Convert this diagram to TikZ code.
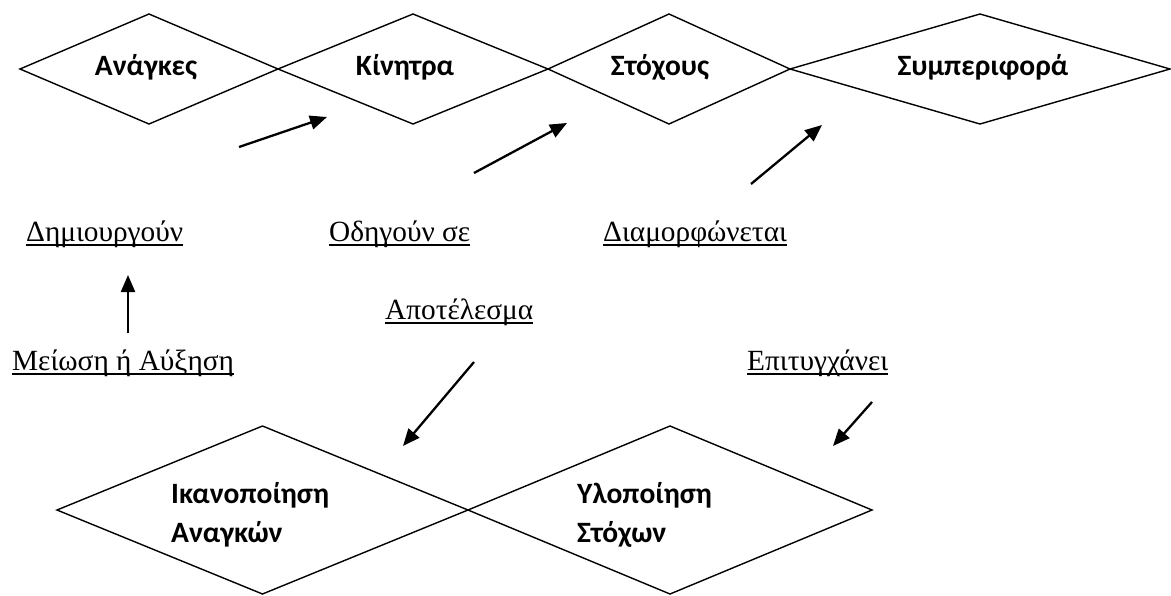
\documentclass[tikz,border=0pt]{standalone}
\usepackage{fontspec}
\setmainfont{Liberation Serif}
\newfontfamily\calfont{Carlito}
\usetikzlibrary{shapes.geometric,arrows.meta}
\begin{document}
\begin{tikzpicture}[x=1pt,y=-1pt,
  dia/.style={draw=black,line width=1.4pt,shape=diamond,inner sep=0pt,outer sep=0pt},
  boldlbl/.style={inner sep=0pt,font=\calfont\bfseries\fontsize{29.5}{34}\selectfont},
  ullbl/.style={inner sep=0pt,anchor=base west,font=\fontsize{29.3}{34}\selectfont},
  ulline/.style={line width=1.5pt},
  arr/.style={line width=2.3pt,-{Triangle[length=17pt,width=14pt]}}]
\useasboundingbox (0,0) rectangle (1171,595);
\fill[white] (0,0) rectangle (1171,595);
% top diamonds
\node[dia,minimum width=258pt,minimum height=110pt] (dAn) at (149,69) {};
\node[dia,minimum width=270pt,minimum height=110pt] (dKi) at (413,69) {};
\node[dia,minimum width=242pt,minimum height=110pt] (dSt) at (669,69) {};
\node[dia,minimum width=380pt,minimum height=110pt] (dSy) at (980,69) {};
% bottom diamonds
\node[dia,minimum width=411pt,minimum height=168pt] (dIk) at (262.5,510) {};
\node[dia,minimum width=404pt,minimum height=168pt] (dYl) at (670,510) {};
% bold labels
\node[boldlbl,anchor=base] (tAn) at (146,75) {Ανάγκες};
\node[boldlbl,anchor=base] (tKi) at (405,75) {Κίνητρα};
\node[boldlbl,anchor=base] (tSt) at (660,75) {Στόχους};
\node[boldlbl,anchor=base] (tSy) at (983,75) {Συμπεριφορά};
\node[boldlbl,anchor=base west] (tIk1) at (171,503) {Ικανοποίηση};
\node[boldlbl,anchor=base west] (tIk2) at (171,542) {Αναγκών};
\node[boldlbl,anchor=base west] (tYl1) at (577,503) {Υλοποίηση};
\node[boldlbl,anchor=base west] (tYl2) at (577,542) {Στόχων};
% underlined labels
\node[ullbl] (uDim) at (26,241) {Δημιουργούν};
\node[ullbl] (uOdi) at (329,241) {Οδηγούν σε};
\node[ullbl] (uDia) at (603,241) {Διαμορφώνεται};
\node[ullbl] (uApo) at (385,319) {Αποτέλεσμα};
\node[ullbl] (uMei) at (12,370) {Μείωση ή Αύξηση\hspace{5pt}};
\node[ullbl] (uEpi) at (747,370) {Επιτυγχάνει};
\foreach \n in {uDim,uOdi,uDia,uApo,uMei,uEpi}
  \draw[ulline] ([yshift=-4pt]\n.base west) -- ([yshift=-4pt]\n.base east);
% arrow end points
\coordinate (a1s) at (239,147); \coordinate (a1e) at (327,117);
\coordinate (a2s) at (474,173); \coordinate (a2e) at (567,123);
\coordinate (a3s) at (751,184); \coordinate (a3e) at (822,125);
\coordinate (a4s) at (128,333); \coordinate (a4e) at (128,275);
\coordinate (a5s) at (474,362); \coordinate (a5e) at (403,446);
\coordinate (a6s) at (872,402); \coordinate (a6e) at (833,446);
\draw[arr] (a1s) -- (a1e);
\draw[arr] (a2s) -- (a2e);
\draw[arr] (a3s) -- (a3e);
\draw[arr] (a4s) -- (a4e);
\draw[arr] (a5s) -- (a5e);
\draw[arr] (a6s) -- (a6e);
\end{tikzpicture}
\end{document}
